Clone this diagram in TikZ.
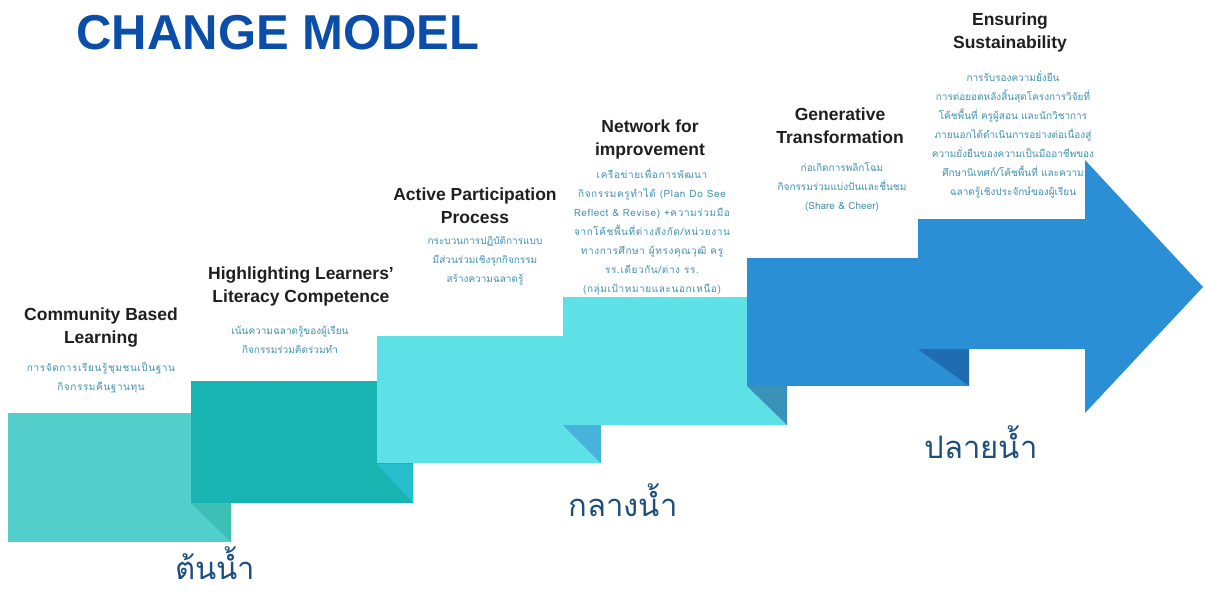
\documentclass[tikz,border=0pt]{standalone}
\usepackage{fontspec}
\setmainfont{Liberation Sans}
\newfontfamily\thaifont[Script=Thai]{Loma}
\newfontfamily\thaiwide[Script=Thai,LetterSpace=6]{Loma}
\newfontfamily\headfont{Liberation Sans}
\definecolor{cA}{HTML}{52CECB}
\definecolor{fA}{HTML}{3DBFB6}
\definecolor{cB}{HTML}{17B4B2}
\definecolor{fB}{HTML}{28BDCD}
\definecolor{cC}{HTML}{5DE0E6}
\definecolor{fC}{HTML}{47B2DB}
\definecolor{cD}{HTML}{5DE0E6}
\definecolor{fD}{HTML}{3A92B8}
\definecolor{cE}{HTML}{2B8FD5}
\definecolor{fE}{HTML}{1F6CB2}
\definecolor{titleblue}{HTML}{0A4EA9}
\definecolor{headdark}{HTML}{1F1F1F}
\definecolor{thaiblue}{HTML}{3F92B3}
\definecolor{labelblue}{HTML}{1D4F7C}
\tikzset{
  heading/.style={anchor=north, inner sep=0pt, align=center, text=headdark,
    font=\headfont\bfseries\fontsize{17.5}{23.5}\selectfont},
  thaitext/.style={anchor=north, inner sep=0pt, align=center, text=thaiblue,
    font=\thaifont\fontsize{10}{19}\selectfont},
  thaitextwide/.style={thaitext, font=\thaiwide\fontsize{10}{19}\selectfont},
  stage/.style={anchor=center, inner sep=0pt, text=labelblue,
    font=\thaifont\fontsize{31}{34}\selectfont},
}
\begin{document}
\begin{tikzpicture}[x=1pt,y=-1pt]
\useasboundingbox (0,0) rectangle (1205,592);
\fill[white] (0,0) rectangle (1205,592);
% step 1
\fill[cA] (8,413) rectangle (231,542);
\fill[fA] (191,503) -- (231,503) -- (231,542) -- cycle;
% step 2
\fill[cB] (191,381) rectangle (413,503);
\fill[fB] (377,464) -- (413,464) -- (413,503) -- cycle;
% step 3
\fill[cC] (377,336) rectangle (601,463);
\fill[fC] (563,425) -- (601,425) -- (601,463) -- cycle;
% step 4
\fill[cD] (563,297) rectangle (787,425);
\fill[fD] (747,386) -- (787,386) -- (787,425) -- cycle;
% step 5
\fill[cE] (747,258) rectangle (969,386);
\fill[fE] (918,349) -- (969,349) -- (969,386) -- cycle;
% step 6 arrow
\fill[cE] (918,219) -- (1085,219) -- (1085,160) -- (1203,287) -- (1085,413) -- (1085,349) -- (918,349) -- cycle;

% title
\node[anchor=center, inner sep=0pt, text=titleblue, font=\bfseries\fontsize{49}{52}\selectfont] (title) at (278,33) {CHANGE MODEL};

% headings
\node[heading] (h1) at (101,307.5) {Community Based\\Learning};
\node[heading] (h2) at (301,266.5) {Highlighting Learners’\\Literacy Competence};
\node[heading] (h3) at (475,187.5) {Active Participation\\Process};
\node[heading] (h4) at (650,119.5) {Network for\\improvement};
\node[heading] (h5) at (840,107.5) {Generative\\Transformation};
\node[heading] (h6) at (1010,12.5) {Ensuring\\Sustainability};

% thai descriptions
\node[thaitextwide] (t1) at (101,362) {การจัดการเรียนรู้ชุมชนเป็นฐาน\\กิจกรรมคืนฐานทุน};
\node[thaitext] (t2) at (290,326) {เน้นความฉลาดรู้ของผู้เรียน\\กิจกรรมร่วมคิดร่วมทำ};
\node[thaitext] (t3) at (485,236) {กระบวนการปฏิบัติการแบบ\\มีส่วนร่วมเชิงรุกกิจกรรม\\สร้างความฉลาดรู้};
\node[thaitextwide] (t4) at (652,168) {เครือข่ายเพื่อการพัฒนา\\กิจกรรมครูทำได้ (Plan Do See\\Reflect \& Revise) +ความร่วมมือ\\จากโค้ชพื้นที่ต่างสังกัด/หน่วยงาน\\ทางการศึกษา ผู้ทรงคุณวุฒิ ครู\\รร.เดียวกัน/ต่าง รร.\\(กลุ่มเป้าหมายและนอกเหนือ)};
\node[thaitext] (t5) at (842,162) {ก่อเกิดการพลิกโฉม\\กิจกรรมร่วมแบ่งปันและชื่นชม\\(Share \& Cheer)};
\node[thaitext] (t6) at (1013,71) {การรับรองความยั่งยืน\\การต่อยอดหลังสิ้นสุดโครงการวิจัยที่\\โค้ชพื้นที่ ครูผู้สอน และนักวิชาการ\\ภายนอกได้ดำเนินการอย่างต่อเนื่องสู่\\ความยั่งยืนของความเป็นมืออาชีพของ\\ศึกษานิเทศก์/โค้ชพื้นที่ และความ\\ฉลาดรู้เชิงประจักษ์ของผู้เรียน};

% stage labels
\node[stage, anchor=base, text depth=0pt] (s1) at (215,579) {ต้นน้ำ};
\node[stage] (s2) at (623,500) {กลางน้ำ};
\node[stage] (s3) at (981,442) {ปลายน้ำ};
\end{tikzpicture}
\end{document}
